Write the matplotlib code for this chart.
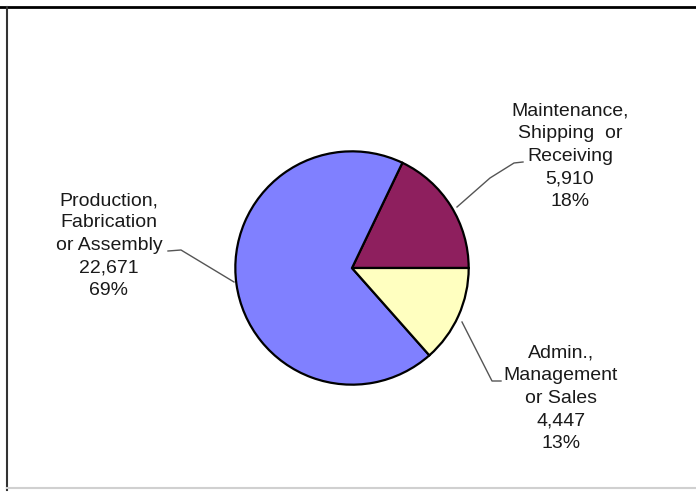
import matplotlib
matplotlib.use("Agg")
import matplotlib.pyplot as plt
from matplotlib.lines import Line2D

plt.rcParams['font.family'] = ['Liberation Sans', 'DejaVu Sans']

# Employment by occupation group
categories = ["Maintenance,\nShipping  or\nReceiving", "Production,\nFabrication\nor Assembly", "Admin.,\nManagement\nor Sales"]
values = [5910, 22671, 4447]
value_labels = ["5,910", "22,671", "4,447"]
colors = ["#8E1F5E", "#8080FF", "#FFFFC0"]

W, H = 696, 497
fig = plt.figure(figsize=(W / 100, H / 100), dpi=100)
fig.patch.set_facecolor("white")

def fx(px):
    return px / W

def fy(py):
    return 1 - py / H

# pie axes: centre (352, 268) px, radius 119 px
cx, cy, r = 352, 268, 119
ax = fig.add_axes([fx(cx - r), fy(cy + r), 2 * r / W, 2 * r / H])
ax.pie(values, colors=colors, startangle=0, counterclock=True,
       radius=1.0, wedgeprops=dict(edgecolor="black", linewidth=1.6))
ax.set_xlim(-1.02, 1.02)
ax.set_ylim(-1.02, 1.02)
ax.set_aspect("auto")
ax.axis("off")

total = sum(values)
pcts = [f"{round(v / total * 100):d}%" for v in values]

# label text blocks (centre x, top y in px)
label_pos = [(570, 103), (109, 192), (561, 345)]
for cat, vl, pc, (lx, ly) in zip(categories, value_labels, pcts, label_pos):
    fig.text(fx(lx), fy(ly), f"{cat}\n{vl}\n{pc}", ha="center", va="top",
             fontsize=14, linespacing=1.42, color="#1a1a1a")

# leader lines (px)
leaders = [
    [(523, 162), (514, 163), (490, 178), (457, 207)],
    [(168, 251), (181, 250), (234, 282)],
    [(501, 381), (492, 381), (462, 322)],
]
for pts in leaders:
    xs = [fx(p[0]) for p in pts]
    ys = [fy(p[1]) for p in pts]
    fig.add_artist(Line2D(xs, ys, color="#555555", linewidth=1.0))

# outer frame
fig.add_artist(Line2D([0, 1], [fy(7), fy(7)], color="black", linewidth=2))
fig.add_artist(Line2D([fx(7), fx(7)], [fy(7), fy(490)], color="#333333", linewidth=1.5))
fig.add_artist(Line2D([fx(7), 1], [fy(488), fy(488)], color="#d0d0d0", linewidth=1.5))

fig.savefig("out.png", dpi=100, facecolor="white")
